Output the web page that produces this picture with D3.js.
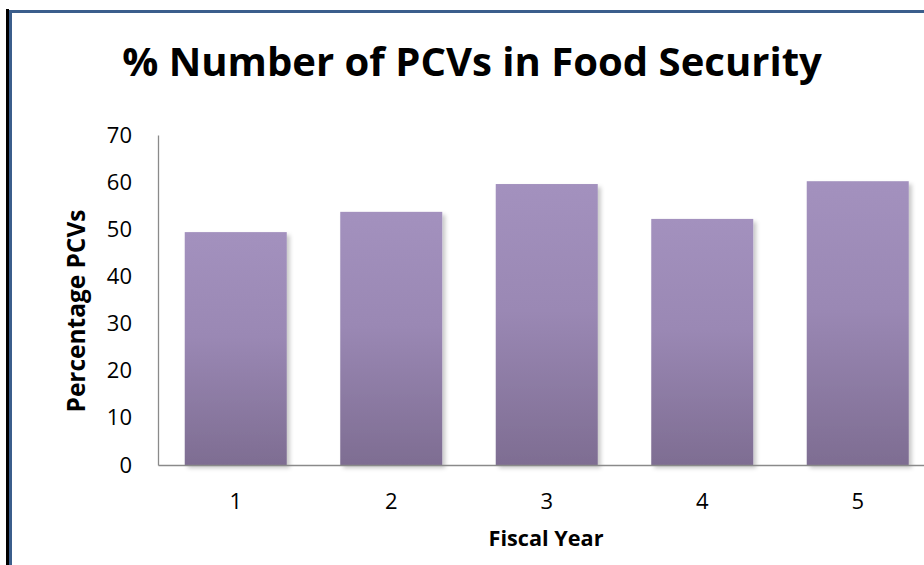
<!DOCTYPE html>
<html>
<head>
<meta charset="utf-8">
<script src="https://cdn.jsdelivr.net/npm/d3@7"></script>
<style>
  body { margin: 0; background: #fff; }
  svg { display: block; font-family: "Open Sans", sans-serif; }
</style>
</head>
<body>
<div id="chart-area"></div>
<script>
// data
const years = ["1", "2", "3", "4", "5"]
const percents = [49.4, 53.7, 59.6, 52.2, 60.2]
const yTicks = [0, 10, 20, 30, 40, 50, 60, 70]

const titleText = "% Number of PCVs in Food Security"
const xLabel = "Fiscal Year"
const yLabel = "Percentage PCVs"

var cw = 924
var ch = 565
var plot = {l: 158, t: 135, r: 935.5, b: 465}

var svg = d3.select("#chart-area").append("svg")
    .attr("width", cw)
    .attr("height", ch)

var defs = svg.append("defs")

var grad = defs.append("linearGradient")
    .attr("id", "barGrad")
    .attr("x1", 0).attr("y1", 0)
    .attr("x2", 0).attr("y2", 1)
grad.append("stop").attr("offset", "0%").attr("stop-color", "#a391be")
grad.append("stop").attr("offset", "45%").attr("stop-color", "#9a88b4")
grad.append("stop").attr("offset", "100%").attr("stop-color", "#7e6d92")

var shadow = defs.append("filter")
    .attr("id", "shadow")
    .attr("x", "-10%").attr("y", "-10%")
    .attr("width", "130%").attr("height", "130%")
shadow.append("feDropShadow")
    .attr("dx", 3).attr("dy", 3)
    .attr("stdDeviation", 2.2)
    .attr("flood-color", "#000")
    .attr("flood-opacity", 0.22)

// frame
svg.append("line")
    .attr("x1", 7.5).attr("x2", 7.5)
    .attr("y1", 9).attr("y2", ch)
    .attr("stroke", "#000").attr("stroke-width", 3)
svg.append("line")
    .attr("x1", 10.5).attr("x2", 10.5)
    .attr("y1", 10).attr("y2", ch)
    .attr("stroke", "#3b5e8c").attr("stroke-width", 3)
svg.append("line")
    .attr("x1", 9).attr("x2", cw)
    .attr("y1", 11.5).attr("y2", 11.5)
    .attr("stroke", "#3b5e8c").attr("stroke-width", 3)

var x = d3.scaleBand()
    .domain(years)
    .range([plot.l, plot.r])
    .paddingInner(0.344)
    .paddingOuter(0.172)

var y = d3.scaleLinear()
    .domain([0, 70])
    .range([plot.b, plot.t])

// bars
svg.append("g").selectAll("rect")
    .data(percents)
    .enter()
    .append("rect")
    .attr("x", (d, i) => x(years[i]))
    .attr("y", d => y(d))
    .attr("width", x.bandwidth())
    .attr("height", d => y(0) - y(d))
    .attr("fill", "url(#barGrad)")
    .attr("filter", "url(#shadow)")

// axes
var leftAxis = d3.axisLeft(y)
    .tickValues(yTicks)
    .tickSize(0)
    .tickPadding(26)

var yAxisGroup = svg.append("g")
    .attr("transform", "translate(" + plot.l + ",0)")
    .call(leftAxis)

var bottomAxis = d3.axisBottom(x)
    .tickSize(0)
    .tickPadding(28)

var xAxisGroup = svg.append("g")
    .attr("transform", "translate(0," + plot.b + ")")
    .call(bottomAxis)

svg.selectAll(".domain")
    .attr("stroke", "#8a8a8a")
    .attr("stroke-width", 1.3)
svg.selectAll(".tick text")
    .attr("font-family", "Open Sans, sans-serif")
    .attr("font-size", "22px")
    .attr("fill", "#000")

// title, sized to the width it has in the picture
var title = svg.append("text")
    .attr("x", 472)
    .attr("y", 76)
    .attr("text-anchor", "middle")
    .attr("font-weight", "bold")
    .attr("font-size", "40px")
    .attr("fill", "#000")
    .text(titleText)
var tl = title.node().getComputedTextLength()
title.attr("font-size", (40 * 700 / tl) + "px")

var xTitle = svg.append("text")
    .attr("x", 546)
    .attr("y", 546)
    .attr("text-anchor", "middle")
    .attr("font-weight", "bold")
    .attr("font-size", "18px")
    .text(xLabel)
var xl = xTitle.node().getComputedTextLength()
xTitle.attr("font-size", (18 * 115 / xl) + "px")

var yTitle = svg.append("text")
    .attr("transform", "translate(85,311) rotate(-90)")
    .attr("text-anchor", "middle")
    .attr("font-weight", "bold")
    .attr("font-size", "18px")
    .text(yLabel)
var yl = yTitle.node().getComputedTextLength()
yTitle.attr("font-size", (18 * 203 / yl) + "px")
</script>
</body>
</html>
